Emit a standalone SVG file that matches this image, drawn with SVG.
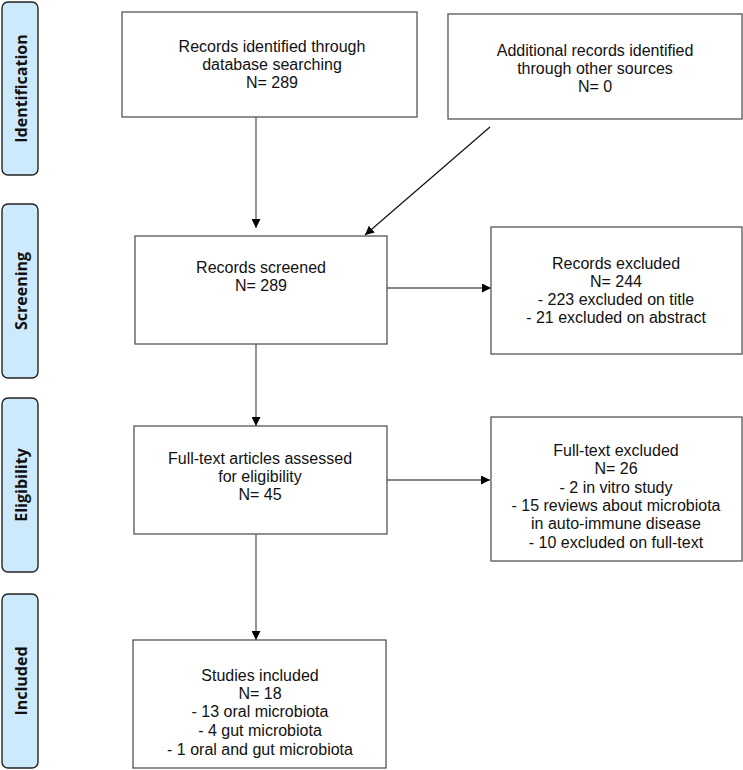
<svg xmlns="http://www.w3.org/2000/svg" width="743" height="770" viewBox="0 0 743 770">
<style>
.box{fill:#fff;stroke:#555;stroke-width:1.3}
.t{font-family:"Liberation Sans",Arial,sans-serif;font-size:16px;fill:#111;text-anchor:middle}
.lab{fill:#cdeafc;stroke:#222;stroke-width:1.4}
.lt{font-family:"Open Sans","DejaVu Sans",sans-serif;font-weight:bold;font-size:16px;fill:#111;text-anchor:middle}
.g{stroke:#888;stroke-width:1.8;fill:none}
.k{stroke:#111;stroke-width:1.2;fill:none}
</style>
<defs>
<marker id="ah" viewBox="0 0 10 10" refX="10" refY="5" markerWidth="9" markerHeight="9" markerUnits="userSpaceOnUse" orient="auto"><path d="M0,0L10,5L0,10z" fill="#000"/></marker>
</defs>
<rect width="743" height="770" fill="#fff"/>
<g id="lab-identification"><rect class="lab" x="2" y="2" width="36" height="173" rx="6"/><text class="lt" transform="translate(27,88.5) rotate(-90)">Identification</text></g>
<g id="lab-screening"><rect class="lab" x="2" y="204" width="36" height="174" rx="6"/><text class="lt" transform="translate(27,291) rotate(-90)">Screening</text></g>
<g id="lab-eligibility"><rect class="lab" x="2" y="398" width="36" height="174" rx="6"/><text class="lt" transform="translate(27,485) rotate(-90)">Eligibility</text></g>
<g id="lab-included"><rect class="lab" x="2" y="594" width="36" height="174" rx="6"/><text class="lt" transform="translate(27,681) rotate(-90)">Included</text></g>
<g id="connectors">
<line class="g" x1="256" y1="117" x2="256" y2="228" marker-end="url(#ah)"/>
<line class="k" x1="490" y1="127" x2="365" y2="235" marker-end="url(#ah)"/>
<line class="k" x1="387" y1="288" x2="491" y2="288" marker-end="url(#ah)"/>
<line class="g" x1="256" y1="344" x2="256" y2="426" marker-end="url(#ah)"/>
<line class="k" x1="387" y1="480" x2="490" y2="480" marker-end="url(#ah)"/>
<line class="g" x1="256" y1="534" x2="256" y2="640" marker-end="url(#ah)"/>
</g>
<g id="n1"><rect class="box" x="122" y="12" width="295" height="105"/>
<text class="t" x="272" y="52">Records identified through</text>
<text class="t" x="272" y="70">database searching</text>
<text class="t" x="272" y="88">N= 289</text></g>
<g id="n2"><rect class="box" x="448" y="14" width="294" height="105"/>
<text class="t" x="595" y="56">Additional records identified</text>
<text class="t" x="595" y="74">through other sources</text>
<text class="t" x="595" y="92">N= 0</text></g>
<g id="n3"><rect class="box" x="135" y="236" width="252" height="108"/>
<text class="t" x="261" y="273">Records screened</text>
<text class="t" x="261" y="291">N= 289</text></g>
<g id="n4"><rect class="box" x="491" y="227" width="251" height="127"/>
<text class="t" x="616" y="269">Records excluded</text>
<text class="t" x="616" y="287">N= 244</text>
<text class="t" x="616" y="305">- 223 excluded on title</text>
<text class="t" x="616" y="323">- 21 excluded on abstract</text></g>
<g id="n5"><rect class="box" x="134" y="426" width="253" height="108"/>
<text class="t" x="260" y="464">Full-text articles assessed</text>
<text class="t" x="260" y="482">for eligibility</text>
<text class="t" x="260" y="500">N= 45</text></g>
<g id="n6"><rect class="box" x="491" y="417" width="251" height="144"/>
<text class="t" x="616" y="456">Full-text excluded</text>
<text class="t" x="616" y="474">N= 26</text>
<text class="t" x="616" y="493">- 2 in vitro study</text>
<text class="t" x="616" y="511">- 15 reviews about microbiota</text>
<text class="t" x="616" y="529">in auto-immune disease</text>
<text class="t" x="616" y="548">- 10 excluded on full-text</text></g>
<g id="n7"><rect class="box" x="133" y="640" width="253" height="128"/>
<text class="t" x="260" y="681">Studies included</text>
<text class="t" x="260" y="699">N= 18</text>
<text class="t" x="260" y="717">- 13 oral microbiota</text>
<text class="t" x="260" y="736">- 4 gut microbiota</text>
<text class="t" x="260" y="755">- 1 oral and gut microbiota</text></g>
</svg>
